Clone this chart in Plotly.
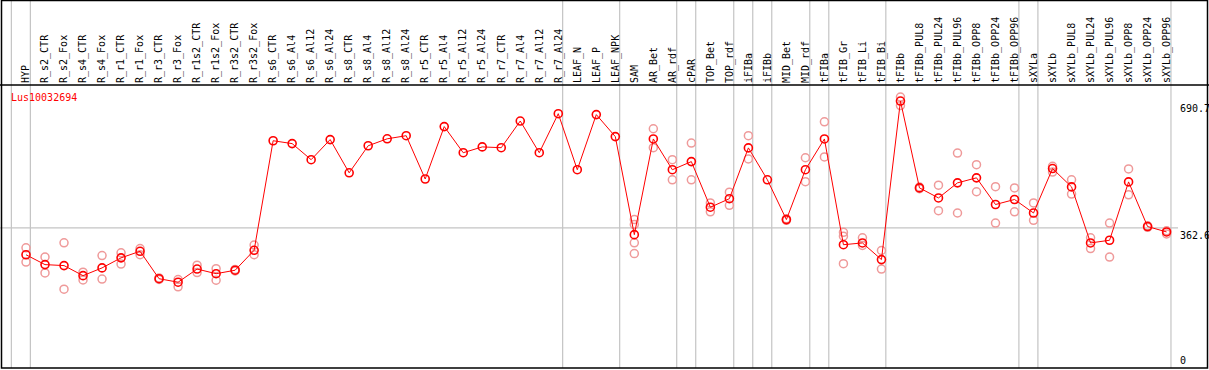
import plotly.graph_objects as go

categories = ["HYP", "R_s2_CTR", "R_s2_Fox", "R_s4_CTR", "R_s4_Fox", "R_r1_CTR", "R_r1_Fox",
              "R_r3_CTR", "R_r3_Fox", "R_r1s2_CTR", "R_r1s2_Fox", "R_r3s2_CTR", "R_r3s2_Fox",
              "R_s6_CTR", "R_s6_Al4", "R_s6_Al12", "R_s6_Al24", "R_s8_CTR", "R_s8_Al4", "R_s8_Al12",
              "R_s8_Al24", "R_r5_CTR", "R_r5_Al4", "R_r5_Al12", "R_r5_Al24", "R_r7_CTR", "R_r7_Al4",
              "R_r7_Al12", "R_r7_Al24", "LEAF_N", "LEAF_P", "LEAF_NPK", "SAM", "AR_Bet", "AR_rdf",
              "cPAR", "TOP_Bet", "TOP_rdf", "iFIBa", "iFIBb", "MID_Bet", "MID_rdf", "tFIBa",
              "tFIB_Gr", "tFIB_Li", "tFIB_Bi", "tFIBb", "tFIBb_PUL8", "tFIBb_PUL24", "tFIBb_PUL96",
              "tFIBb_OPP8", "tFIBb_OPP24", "tFIBb_OPP96", "sXYLa", "sXYLb", "sXYLb_PUL8",
              "sXYLb_PUL24", "sXYLb_PUL96", "sXYLb_OPP8", "sXYLb_OPP24", "sXYLb_OPP96"]

means = [293, 267.5, 265, 239, 259, 285, 302, 231, 222, 256, 244, 253, 304.6,
         588, 580.6, 539, 591, 505, 575, 593, 601, 489, 624.6, 557, 572, 570, 639, 557, 658,
         513, 655.6, 598.7, 345, 592.6, 513, 534, 416, 438, 569.5, 487, 384, 513, 592.6,
         319, 323.6, 280.5, 690.7, 466, 440, 479, 492, 423, 436, 401, 516, 468.6,
         323.6, 330.5, 481.5, 366, 352]

replicates = [[311, 274], [287, 246], [324, 204], [248, 228], [291, 230], [298, 269], [309, 293],
              [233, 229], [229, 210], [266, 247], [257, 227], [255, 251], [318, 293],
              [], [], [], [], [], [], [], [], [], [], [], [], [], [], [], [],
              [], [], [], [384, 371, 324, 296], [619, 570], [539, 487], [582, 487], [427, 404],
              [455, 421], [601, 541], [], [386, 382], [544, 482], [637, 546],
              [351, 341, 270], [337, 317], [304, 256], [701, 679], [468, 464], [473, 407],
              [556, 401], [526, 456], [469, 375], [466, 404], [427, 382], [522, 507],
              [487, 450], [337, 309], [375, 287], [515, 448], [368, 364], [355, 347]]

# group boundaries: a separator line is drawn right after these categories
separators_after = ["HYP", "R_r7_Al24", "LEAF_NPK", "AR_rdf", "cPAR", "TOP_rdf", "iFIBa", "iFIBb",
                    "MID_rdf", "tFIBa", "tFIB_Bi", "tFIBb_OPP96", "sXYLa", "sXYLb_OPP96"]
y_ticks = [0, 362.6, 690.7]
gene = "Lus10032694"

W, H = 1209, 370
x_first, x_step = 26, 19.01
plot_right = 1177
top_px, bottom_px = 85, 368
px_per_unit = 0.3865

idx = list(range(len(categories)))
rx, ry = [], []
for i, reps in enumerate(replicates):
    for v in reps:
        rx.append(i)
        ry.append(v)

fig = go.Figure()
fig.add_trace(go.Scatter(x=rx, y=ry, mode="markers",
                         marker=dict(symbol="circle-open", size=8, color="#ef9a9a",
                                     line=dict(width=1.5, color="#ef9a9a")),
                         showlegend=False, hoverinfo="y"))
fig.add_trace(go.Scatter(x=idx, y=means, mode="lines+markers",
                         line=dict(color="#ff0000", width=1),
                         marker=dict(symbol="circle-open", size=8, color="#ff0000",
                                     line=dict(width=1.6, color="#ff0000")),
                         showlegend=False, hoverinfo="y"))

shapes = []
grey = "#c4c4c4"
sep_pos = [-1 + 0.23] + [categories.index(c) + 0.23 for c in separators_after]
for s in sep_pos:
    shapes.append(dict(type="line", xref="x", yref="paper", x0=s, x1=s,
                       y0=(H - bottom_px) / H, y1=1, line=dict(color=grey, width=1.2), layer="below"))
shapes.append(dict(type="line", xref="paper", yref="y", x0=0, x1=(plot_right + 1) / W,
                   y0=y_ticks[1], y1=y_ticks[1], line=dict(color=grey, width=1.2), layer="below"))
# frame
shapes.append(dict(type="rect", xref="paper", yref="paper", x0=1.5 / W, x1=(W - 1.5) / W,
                   y0=(H - bottom_px) / H, y1=1 - 0.5 / H, line=dict(color="black", width=1.5)))
shapes.append(dict(type="line", xref="paper", yref="paper", x0=0, x1=1,
                   y0=(H - top_px) / H, y1=(H - top_px) / H, line=dict(color="black", width=1.5)))

annotations = [dict(text=gene, xref="paper", yref="paper", x=9 / W, y=(H - 97) / H,
                    xanchor="left", yanchor="middle", showarrow=False,
                    font=dict(family="DejaVu Sans Mono", size=10, color="#ff0000"))]
for v in y_ticks:
    annotations.append(dict(text=f"{v:g}", xref="paper", yref="y", x=(plot_right + 1) / W, y=v,
                            xanchor="left", yanchor="bottom" if v == 0 else "top",
                            showarrow=False,
                            font=dict(family="DejaVu Sans Mono", size=10, color="black")))

fig.update_layout(
    width=W, height=H, margin=dict(l=0, r=0, t=0, b=0),
    paper_bgcolor="white", plot_bgcolor="white",
    xaxis=dict(domain=[0, plot_right / W],
               range=[(0 - x_first) / x_step, (plot_right - x_first) / x_step],
               side="top", tickmode="array", tickvals=idx, ticktext=categories,
               tickangle=-90, ticks="", showgrid=False, zeroline=False, showline=False,
               tickfont=dict(family="DejaVu Sans Mono", size=10, color="black"),
               ticklabelstandoff=1),
    yaxis=dict(domain=[(H - bottom_px) / H, (H - top_px) / H],
               range=[0, (bottom_px - top_px) / px_per_unit],
               showgrid=False, zeroline=False, showticklabels=False, ticks="", showline=False),
    shapes=shapes, annotations=annotations,
)
fig.write_html("out.html", config={"displayModeBar": False},
               post_script="document.body.style.margin='0px';document.body.style.overflow='hidden';")
